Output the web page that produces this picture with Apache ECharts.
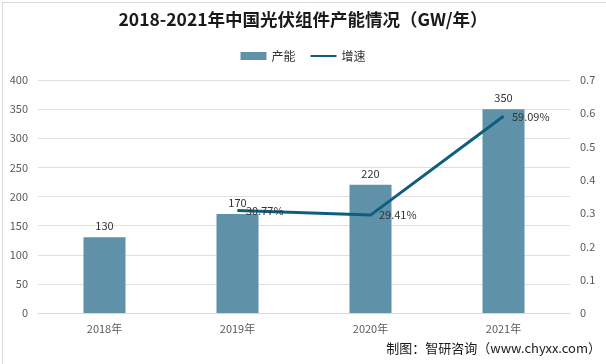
<!DOCTYPE html>
<html><head><meta charset="utf-8">
<script src="https://cdn.jsdelivr.net/npm/echarts@6/dist/echarts.min.js"></script>
<style>html,body{margin:0;padding:0;background:#fff}#c{width:606px;height:364px}</style>
</head><body><div id="c"></div>
<script>
var categories = ['2018年', '2019年', '2020年', '2021年'];
var capacity = [130, 170, 220, 350];
var growth = [null, 0.3077, 0.2941, 0.5909];
var growthLabels = [null, '30.77%', '29.41%', '59.09%'];
var leftTicks = [0, 50, 100, 150, 200, 250, 300, 350, 400];
var rightTicks = [0, 0.1, 0.2, 0.3, 0.4, 0.5, 0.6, 0.7];

var font = '"Noto Sans CJK SC", "Noto Sans", sans-serif';
var chart = echarts.init(document.getElementById('c'), null, {renderer: 'canvas'});
chart.setOption({
  animation: false,
  textStyle: {fontFamily: font},
  title: {
    text: '2018-2021年中国光伏组件产能情况（GW/年）',
    left: 'center', top: 6,
    textStyle: {fontSize: 17.5, fontWeight: 'bold', color: '#1a1a1a', fontFamily: font}
  },
  legend: {
    top: 45, left: 'center', itemGap: 14, itemWidth: 26, itemHeight: 8,
    textStyle: {fontSize: 12, color: '#333', fontFamily: font},
    data: [{name: '产能', icon: 'rect'}, {name: '增速', itemStyle: {opacity: 0}}]
  },
  grid: {left: 38, right: 36, top: 80, bottom: 51},
  xAxis: {
    type: 'category', data: categories,
    axisLine: {lineStyle: {color: '#d9d9d9'}},
    axisTick: {show: false},
    axisLabel: {color: '#595959', fontSize: 11, margin: 10, fontFamily: font}
  },
  yAxis: [{
    type: 'value', min: 0, max: 400, interval: 50,
    axisLine: {show: false}, axisTick: {show: false},
    splitLine: {lineStyle: {color: '#e0e0e0'}},
    axisLabel: {color: '#595959', fontSize: 11, margin: 10, fontFamily: font}
  }, {
    type: 'value', min: 0, max: 0.7, interval: 0.1,
    axisLine: {show: false}, axisTick: {show: false},
    splitLine: {show: false},
    axisLabel: {color: '#595959', fontSize: 11, margin: 10, fontFamily: font,
      formatter: function (v) { return String(Math.round(v * 10) / 10); }}
  }],
  series: [{
    name: '产能', type: 'bar', data: capacity, barWidth: 42,
    itemStyle: {color: '#5f92a8'},
    label: {show: true, position: 'top', color: '#333', fontSize: 11, distance: 6, fontFamily: font}
  }, {
    name: '增速', type: 'line', yAxisIndex: 1, data: growth,
    symbol: 'circle', symbolSize: 1, showSymbol: true, connectNulls: false,
    lineStyle: {color: '#0e5f7e', width: 3},
    itemStyle: {color: '#0e5f7e'},
    label: {show: true, position: 'right', distance: 8, color: '#333', fontSize: 11, fontFamily: font,
      formatter: function (p) { return growthLabels[p.dataIndex]; }}
  }],
  graphic: [{
    type: 'rect', left: 0, top: 0, z: 100,
    shape: {x: 0.5, y: 0.5, width: 604, height: 362},
    style: {fill: 'none', stroke: '#d9d9d9', lineWidth: 1}
  }, {
    type: 'text', right: 5, top: 342,
    style: {text: '制图：智研咨询（www.chyxx.com）', fill: '#1a1a1a', fontSize: 13, fontFamily: font}
  }]
});
</script></body></html>
